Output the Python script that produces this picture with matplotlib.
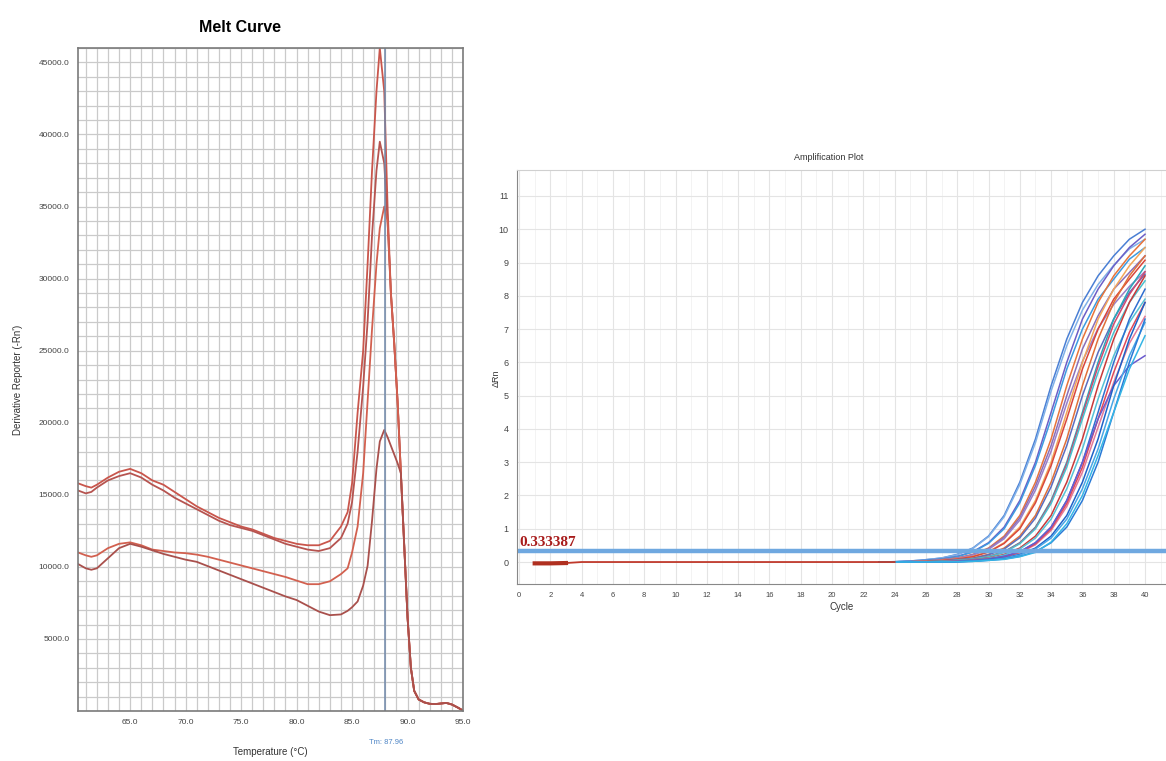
import matplotlib
matplotlib.use("Agg")
import matplotlib.pyplot as plt
from matplotlib.ticker import MultipleLocator, FixedLocator

plt.rcParams['font.family'] = ['Liberation Sans', 'DejaVu Sans']

# ---------------- melt curve data ----------------
temps = [60.3, 61, 61.5, 62, 63, 64, 65, 66, 67, 68, 69, 70, 71, 72, 73, 74, 75, 76, 77,
         78, 79, 80, 81, 82, 83, 84, 84.6, 85, 85.5, 86, 86.4, 86.8, 87.2, 87.5, 87.9,
         88.2, 88.5, 88.8, 89.1, 89.4, 89.7, 90, 90.3, 90.6, 91, 91.5, 92, 92.5, 93,
         93.5, 94, 94.5, 95]
melt_a = [15800, 15600, 15500, 15700, 16200, 16600, 16800, 16500, 16000, 15700, 15200,
          14700, 14200, 13800, 13400, 13100, 12800, 12600, 12300, 12000, 11800, 11600,
          11500, 11500, 11800, 12800, 13800, 15800, 20700, 25000, 31000, 37500, 43000,
          46000, 43000, 35000, 29000, 25500, 21500, 16500, 11500, 6500, 3000, 1400, 800,
          600, 500, 480, 520, 560, 450, 250, 30]
melt_b = [15300, 15100, 15200, 15500, 16000, 16300, 16500, 16200, 15700, 15300, 14800,
          14400, 14000, 13600, 13200, 12900, 12700, 12500, 12200, 11900, 11600, 11400,
          11200, 11100, 11300, 12000, 13000, 14500, 18000, 22500, 27000, 33000, 37500,
          39500, 38000, 34000, 29000, 25500, 21500, 16500, 11500, 6500, 3000, 1400, 800,
          600, 500, 480, 520, 560, 450, 250, 30]
melt_c = [11000, 10800, 10700, 10800, 11300, 11600, 11700, 11500, 11200, 11100, 11000,
          10950, 10850, 10700, 10500, 10300, 10100, 9900, 9700, 9500, 9300, 9050, 8800,
          8800, 9000, 9500, 9900, 11000, 12800, 16500, 21500, 26500, 31000, 33500, 35000,
          34000, 29000, 25500, 21500, 16500, 11500, 6500, 3000, 1400, 800, 600, 500, 480,
          520, 560, 450, 250, 30]
melt_d = [10200, 9900, 9800, 9900, 10600, 11300, 11600, 11400, 11150, 10900, 10700,
          10500, 10350, 10050, 9750, 9450, 9150, 8850, 8550, 8250, 7950, 7700, 7300, 6900,
          6650, 6700, 6950, 7200, 7600, 8700, 10070, 13200, 16800, 18700, 19500, 19000,
          18400, 17800, 17200, 16500, 11500, 6500, 3000, 1400, 800, 600, 500, 480, 520,
          560, 450, 250, 30]
melt_series = [melt_a, melt_b, melt_c, melt_d]
melt_colors = ['#c9564c', '#b65450', '#d2604f', '#a9504c']
tm_value = 87.96

# ---------------- amplification data ----------------
base_cycles = list(range(1, 25))
baseline = [-0.04, -0.04, -0.03] + [0.0] * 21
amp_cycles = list(range(24, 41))
amp_curves = [
    ([0.01, 0.03, 0.07, 0.12, 0.23, 0.42, 0.78, 1.4, 2.4, 3.7, 5.3, 6.7, 7.8, 8.6, 9.2, 9.7, 10.0], '#4a7fd4'),
    ([0.01, 0.03, 0.07, 0.12, 0.22, 0.41, 0.76, 1.36, 2.33, 3.59, 5.14, 6.5, 7.57, 8.34, 8.92, 9.41, 9.7], '#7fb0e8'),
    ([0.007, 0.02, 0.05, 0.09, 0.17, 0.31, 0.58, 1.05, 1.85, 3.0, 4.5, 6.0, 7.3, 8.2, 8.9, 9.45, 9.85], '#6c5fc7'),
    ([0.007, 0.02, 0.05, 0.09, 0.16, 0.3, 0.56, 1.0, 1.78, 2.9, 4.3, 5.8, 7.0, 7.9, 8.5, 9.1, 9.45], '#3d9be0'),
    ([0.005, 0.01, 0.03, 0.07, 0.12, 0.23, 0.42, 0.78, 1.4, 2.4, 3.7, 5.3, 6.7, 7.8, 8.6, 9.2, 9.7], '#e8743b'),
    ([0.005, 0.01, 0.03, 0.07, 0.11, 0.22, 0.4, 0.74, 1.33, 2.28, 3.5, 5.0, 6.4, 7.4, 8.2, 8.7, 9.2], '#8a6fb8'),
    ([0.005, 0.01, 0.03, 0.06, 0.11, 0.21, 0.38, 0.7, 1.26, 2.16, 3.33, 4.77, 6.03, 7.02, 7.74, 8.28, 8.73], '#9a7fc8'),
    ([0.004, 0.007, 0.02, 0.05, 0.09, 0.17, 0.31, 0.58, 1.05, 1.85, 3.0, 4.5, 6.0, 7.3, 8.2, 8.9, 9.45], '#f2a65a'),
    ([0.004, 0.007, 0.02, 0.05, 0.09, 0.16, 0.3, 0.56, 1.0, 1.78, 2.9, 4.3, 5.8, 7.0, 7.9, 8.5, 9.07], '#d9463b'),
    ([0.003, 0.005, 0.01, 0.03, 0.07, 0.12, 0.23, 0.42, 0.78, 1.4, 2.4, 3.7, 5.3, 6.7, 7.8, 8.6, 9.2], '#e0703a'),
    ([0.003, 0.005, 0.01, 0.03, 0.07, 0.11, 0.22, 0.39, 0.73, 1.32, 2.26, 3.5, 5.0, 6.3, 7.3, 8.1, 8.65], '#5a6ebf'),
    ([0.002, 0.004, 0.007, 0.02, 0.05, 0.09, 0.17, 0.31, 0.58, 1.05, 1.85, 3.0, 4.5, 6.0, 7.3, 8.2, 8.9], '#2aa7b8'),
    ([0.002, 0.004, 0.007, 0.02, 0.05, 0.09, 0.17, 0.3, 0.57, 1.03, 1.81, 2.94, 4.41, 5.88, 7.15, 8.04, 8.72], '#d14b6f'),
    ([0.002, 0.004, 0.007, 0.02, 0.05, 0.09, 0.16, 0.29, 0.55, 1.0, 1.76, 2.85, 4.3, 5.7, 6.9, 7.8, 8.45], '#48c0cf'),
    ([0.002, 0.003, 0.005, 0.01, 0.03, 0.07, 0.12, 0.23, 0.42, 0.78, 1.4, 2.4, 3.7, 5.3, 6.7, 7.8, 8.6], '#c83a3a'),
    ([0.002, 0.003, 0.005, 0.01, 0.03, 0.06, 0.11, 0.21, 0.39, 0.72, 1.29, 2.2, 3.4, 4.9, 6.2, 7.2, 7.9], '#56c2d6'),
    ([0.001, 0.002, 0.004, 0.007, 0.02, 0.05, 0.09, 0.17, 0.31, 0.58, 1.05, 1.85, 3.0, 4.5, 6.0, 7.3, 8.2], '#2f6fd0'),
    ([0.001, 0.002, 0.004, 0.006, 0.02, 0.045, 0.08, 0.15, 0.28, 0.52, 0.95, 1.67, 2.7, 4.05, 5.4, 6.57, 7.38], '#e37a9a'),
    ([0.001, 0.002, 0.004, 0.007, 0.02, 0.05, 0.09, 0.16, 0.29, 0.55, 1.0, 1.76, 2.85, 4.3, 5.7, 6.9, 7.8], '#e04858'),
    ([0.001, 0.002, 0.004, 0.007, 0.02, 0.05, 0.09, 0.17, 0.31, 0.58, 1.05, 1.85, 3.0, 4.3, 5.3, 5.9, 6.2], '#6a5acd'),
    ([0.001, 0.002, 0.003, 0.005, 0.01, 0.03, 0.07, 0.12, 0.23, 0.42, 0.78, 1.4, 2.4, 3.7, 5.3, 6.7, 7.8], '#1f62c8'),
    ([0.001, 0.002, 0.003, 0.005, 0.01, 0.03, 0.06, 0.11, 0.21, 0.39, 0.72, 1.29, 2.2, 3.4, 4.9, 6.2, 7.2], '#49a6e6'),
    ([0.001, 0.001, 0.002, 0.004, 0.007, 0.02, 0.05, 0.09, 0.17, 0.31, 0.58, 1.05, 1.85, 3.0, 4.5, 6.0, 7.3], '#2a7ad6'),
    ([0.001, 0.001, 0.002, 0.004, 0.007, 0.02, 0.05, 0.08, 0.16, 0.29, 0.6, 1.15, 2.0, 3.2, 4.5, 5.8, 6.8], '#35b5e5'),
]
threshold = 0.333387

fig = plt.figure(figsize=(11.66, 7.61), dpi=100)

# ---------------- left: melt curve ----------------
ax1 = fig.add_axes([0.0669, 0.0657, 0.3302, 0.8712])
ax1.set_xlim(60.3, 95)
ax1.set_ylim(0, 46000)
xt = [65, 70, 75, 80, 85, 90, 95]
yt = [5000, 10000, 15000, 20000, 25000, 30000, 35000, 40000, 45000]
ax1.xaxis.set_major_locator(FixedLocator(xt))
ax1.yaxis.set_major_locator(FixedLocator(yt))
ax1.xaxis.set_minor_locator(MultipleLocator(1))
ax1.yaxis.set_minor_locator(MultipleLocator(1000))
ax1.grid(which='both', color='#cacaca', lw=0.9)
ax1.set_axisbelow(True)
ax1.set_xticklabels([f"{v:.1f}" for v in xt])
ax1.set_yticklabels([f"{v:.1f}" for v in yt])
ax1.tick_params(which='both', length=0, labelsize=6, colors='#444444', pad=6)
for s in ax1.spines.values():
    s.set_color('#7a7a7a')
    s.set_linewidth(1.2)
for vals, col in zip(melt_series, melt_colors):
    ax1.plot(temps, vals, color=col, lw=1.3)
ax1.axvline(tm_value, color='#7088aa', lw=1.1)
fig.text(240 / 1166, 1 - 27 / 761, "Melt Curve", ha='center', va='center', fontsize=11.5, fontweight='bold')
fig.text(18 / 1166, 1 - 380 / 761, "Derivative Reporter (-Rn')", rotation=90, ha='center', va='center',
         fontsize=7, color='#333333')
fig.text(270 / 1166, 1 - 752 / 761, "Temperature (°C)", ha='center', va='center', fontsize=7, color='#333333')
fig.text(386 / 1166, 1 - 742 / 761, f"Tm: {tm_value:.2f}", ha='center', va='center', fontsize=5.5, color='#4f86c6')

# ---------------- right: amplification plot ----------------
ax2 = fig.add_axes([0.4434, 0.2326, 0.5566, 0.544])
ax2.set_xlim(-0.13, 41.34)
ax2.set_ylim(-0.66, 11.78)
ax2.xaxis.set_major_locator(MultipleLocator(2))
ax2.xaxis.set_minor_locator(MultipleLocator(1))
ax2.yaxis.set_major_locator(FixedLocator(list(range(0, 12))))
ax2.grid(which='major', color='#e4e4e4', lw=0.8)
ax2.grid(which='minor', axis='x', color='#f1f1f1', lw=0.6)
ax2.set_axisbelow(True)
ax2.tick_params(which='both', length=0, labelsize=6.5, colors='#444444', pad=6)
ax2.tick_params(axis='x', labelsize=5.5)
ax2.spines['right'].set_visible(False)
ax2.spines['top'].set_color('#d0d0d0')
ax2.spines['left'].set_color('#888888')
ax2.spines['bottom'].set_color('#888888')

for vals, col in amp_curves:
    ax2.plot([23] + amp_cycles, [0.0] + vals, color=col, lw=1.1)
ax2.plot(base_cycles, baseline, color='#c0392b', lw=1.3)
ax2.plot(base_cycles[:3], baseline[:3], color='#b03020', lw=3)
ax2.axhline(threshold, color='#6fa8e0', lw=3.2)
ax2.text(0.0, threshold + 0.06, f"{threshold:.6f}", color='#a81c1c', fontsize=11, fontweight='bold',
         family='Liberation Serif', ha='left', va='bottom')

fig.text(829 / 1166, 1 - 157 / 761, "Amplification Plot", ha='center', va='center', fontsize=6.5, color='#333333')
fig.text(496 / 1166, 1 - 378 / 761, "ΔRn", rotation=90, ha='center', va='center', fontsize=6.5, color='#333333')
fig.text(842 / 1166, 1 - 607 / 761, "Cycle", ha='center', va='center', fontsize=7, color='#333333')

fig.savefig("out.png", dpi=100)
